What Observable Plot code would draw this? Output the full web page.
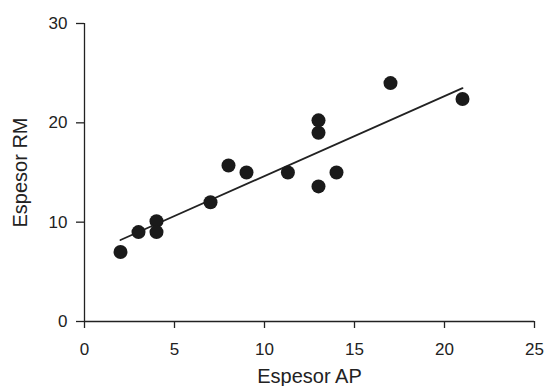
<!DOCTYPE html>
<html>
<head>
<meta charset="utf-8">
<script src="https://cdn.jsdelivr.net/npm/d3@7"></script>
<script src="https://cdn.jsdelivr.net/npm/@observablehq/plot@0.6"></script>
<style>
  html, body { margin: 0; padding: 0; background: #fff; }
  #chart svg { display: block; }
</style>
</head>
<body>
<div id="chart"></div>
<script>
const apValues = [2, 3, 4, 4, 7, 8, 9, 11.3, 13, 13, 13, 14, 17, 21];
const rmValues = [7, 9, 10.1, 9, 12, 15.7, 15, 15, 20.25, 19, 13.6, 15, 24, 22.4];
const fitX = [2, 21];
const fitY = [8.2, 23.5];
const xTicks = [0, 5, 10, 15, 20, 25];
const yTicks = [0, 10, 20, 30];
const xLabel = "Espesor AP";
const yLabel = "Espesor RM";

const points = apValues.map((x, i) => ({x, y: rmValues[i]}));
const fit = fitX.map((x, i) => ({x, y: fitY[i]}));
const ink = "#222";

const chart = Plot.plot({
  width: 546,
  height: 386,
  marginLeft: 84,
  marginRight: 12,
  marginTop: 23,
  marginBottom: 65,
  style: {fontFamily: "'Liberation Sans', Arial, sans-serif", fontSize: "17px", color: ink, background: "#fff"},
  x: {domain: [0, 25]},
  y: {domain: [0, 30]},
  marks: [
    Plot.axisX({ticks: xTicks, tickSize: 7, tickPadding: 14, fontSize: 17, label: null, stroke: ink, strokeWidth: 1.3}),
    Plot.axisY({ticks: yTicks, tickSize: 8, tickPadding: 9, fontSize: 17, label: null, stroke: ink, strokeWidth: 1.3}),
    Plot.ruleY([0], {stroke: ink, strokeWidth: 1.3}),
    Plot.ruleX([0], {stroke: ink, strokeWidth: 1.3}),
    Plot.line(fit, {x: "x", y: "y", stroke: ink, strokeWidth: 1.8}),
    Plot.dot(points, {x: "x", y: "y", r: 7, fill: "#1a1a1a", stroke: "none"}),
    Plot.text([xLabel], {frameAnchor: "bottom", textAnchor: "middle", dy: 61, fontSize: 20, fill: ink}),
    Plot.text([yLabel], {frameAnchor: "left", textAnchor: "middle", rotate: -90, dx: -64, fontSize: 20, fill: ink})
  ]
});
document.getElementById("chart").appendChild(chart);
</script>
</body>
</html>
